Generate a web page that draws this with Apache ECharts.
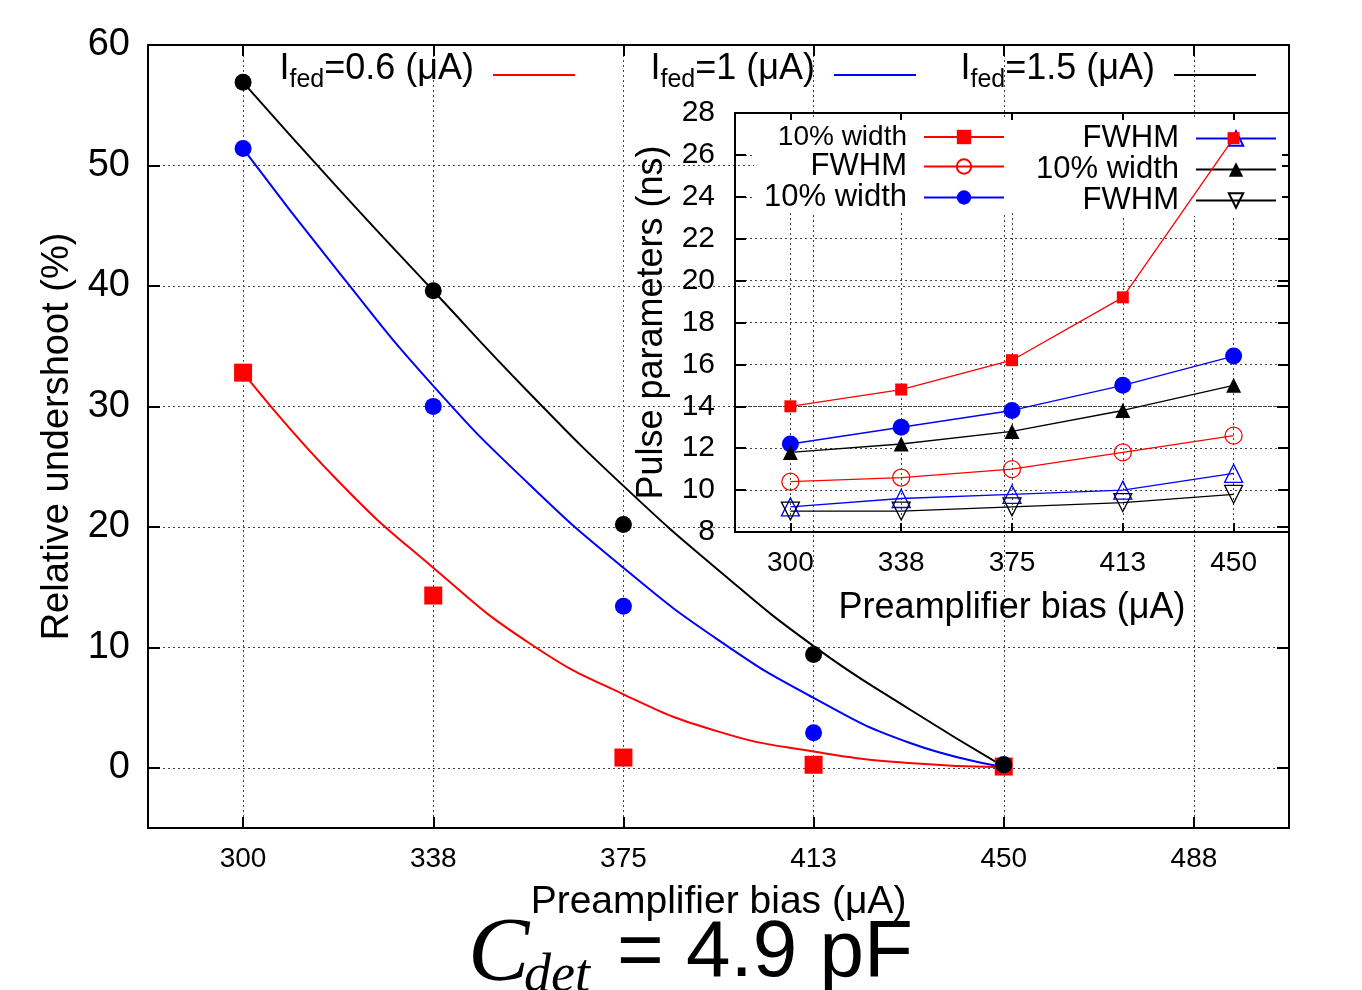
<!DOCTYPE html>
<html>
<head>
<meta charset="utf-8">
<script src="https://cdn.jsdelivr.net/npm/echarts@6/dist/echarts.min.js"></script>
<style>
  html, body { margin: 0; padding: 0; background: #fff; }
  #chart { width: 1362px; height: 990px; }
</style>
</head>
<body>
<div id="chart"></div>
<script>
// Preamplifier bias settings (μA)
const biasTicks = [300, 337.5, 375, 412.5, 450, 487.5];
const biasInsetTicks = [300, 337.5, 375, 412.5, 450];
const biasPoints = [300, 337.5, 375, 412.5, 450];

// Relative undershoot (%) for each feedback current
const undershoot06 = [32.8, 14.3, 0.85, 0.25, 0.1];
const undershoot10 = [51.4, 30.0, 13.4, 2.9, 0.25];
const undershoot15 = [56.9, 39.6, 20.2, 9.4, 0.25];

// Fitted trend curves, sampled along the bias axis
const fitBias = [300, 318.75, 337.5, 356.25, 375, 393.75, 412.5, 431.25, 450];
const fit06 = [32.8, 23.8, 16.6, 10.4, 6.1, 3.0, 1.35, 0.4, 0.05];
const fit10 = [51.4, 41.2, 31.7, 23.6, 16.6, 10.6, 5.8, 2.1, 0.05];
const fit15 = [56.9, 48.1, 39.6, 31.2, 23.4, 16.4, 10.1, 4.9, 0.1];

// Pulse parameters (ns): 10% width and FWHM per feedback current
const width06 = [14.0, 14.8, 16.2, 19.2, 26.8];
const fwhm06 = [10.4, 10.6, 11.0, 11.8, 12.6];
const width10 = [12.2, 13.0, 13.8, 15.0, 16.4];
const fwhm10 = [9.2, 9.6, 9.8, 10.0, 10.8];
const width15 = [11.8, 12.2, 12.8, 13.8, 15.0];
const fwhm15 = [9.0, 9.0, 9.2, 9.4, 9.8];

// Axis tick values
const undershootTicks = [0, 10, 20, 30, 40, 50, 60];

// Legend labels
const feedbackLabels = { fit06: '0.6', fit10: '1', fit15: '1.5' };
const pulseLabels = {
  w06: '10% width', f06: 'FWHM', w10: '10% width',
  f10: 'FWHM', w15: '10% width', f15: 'FWHM'
};

const FONT = 'Liberation Sans';
const RED = '#ff0000', BLUE = '#0000ff', BLACK = '#000000';
const zip = (xs, ys) => xs.map((x, i) => [x, ys[i]]);
const roundLabel = v => String(Math.round(v));
const dotted = { color: '#444', width: 1, type: [2, 3] };

function xAxisDef(grid, pos, min, max, ticks, z, withLabels, labelSize, tickLen) {
  return {
    type: 'value', gridIndex: grid, position: pos, min: min, max: max, z: z,
    axisLine: { show: true, onZero: false, lineStyle: { color: '#000', width: 2 } },
    axisTick: { show: true, inside: true, length: tickLen, customValues: ticks,
                lineStyle: { color: '#000', width: 2 } },
    axisLabel: { show: withLabels, customValues: ticks, formatter: roundLabel,
                 fontSize: labelSize, fontFamily: FONT, color: '#000', margin: 17 },
    splitLine: { show: withLabels, lineStyle: dotted }
  };
}

const chart = echarts.init(document.getElementById('chart'), null, { renderer: 'canvas' });

const mainScatter = (name, data, color, symbol) => ({
  name: name, type: 'scatter', xAxisIndex: 0, yAxisIndex: 0, z: 3,
  symbol: symbol, symbolSize: symbol === 'rect' ? 18 : 17,
  itemStyle: { color: color, opacity: 1 },
  data: zip(biasPoints, data)
});
const mainFit = (name, data, color) => ({
  name: name, type: 'line', xAxisIndex: 0, yAxisIndex: 0, z: 3,
  smooth: 0.5, symbol: 'none', showSymbol: false,
  color: color, lineStyle: { color: color, width: 2 },
  data: zip(fitBias, data)
});
const pulseLine = (name, data, color, symbol, size, open, rotate) => ({
  name: name, type: 'line', xAxisIndex: 2, yAxisIndex: 2, z: 5,
  symbol: symbol, symbolSize: size, symbolRotate: rotate || 0,
  color: color,
  lineStyle: { color: color, width: 1.3 },
  itemStyle: open ? { color: 'rgba(0,0,0,0)', borderColor: color, borderWidth: 1.3 }
                  : { color: color },
  data: zip(biasPoints, data)
});

const feedbackLegend = (name, right) => ({
  data: [name], right: right, top: 51, padding: 0, z: 6,
  orient: 'horizontal', align: 'right', selectedMode: false,
  icon: 'rect', itemWidth: 82, itemHeight: 2,
  formatter: n => '{i|I}{s|fed}{t|=' + feedbackLabels[n] + ' (μA)}',
  textStyle: {
    fontFamily: FONT, color: '#000',
    rich: {
      i: { fontFamily: FONT, fontSize: 36, lineHeight: 36, padding: [0, 0, 6, 0], verticalAlign: 'bottom', color: '#000' },
      s: { fontFamily: FONT, fontSize: 25, lineHeight: 25, verticalAlign: 'bottom', color: '#000' },
      t: { fontFamily: FONT, fontSize: 36, lineHeight: 36, padding: [0, 14, 6, 0], verticalAlign: 'bottom', color: '#000' }
    }
  }
});

const pulseLegend = (names, right, padding) => ({
  data: names, right: right, top: 120, padding: padding, z: 4,
  orient: 'vertical', align: 'right', selectedMode: false,
  backgroundColor: '#fff', itemGap: 0, itemWidth: 80, itemHeight: 18,
  formatter: n => (n === 'w06' ? '{b|' : '{a|') + pulseLabels[n] + '}',
  textStyle: {
    fontFamily: FONT, color: '#000',
    rich: {
      a: { fontFamily: FONT, fontSize: 31, lineHeight: 29, padding: [0, 12, 0, 0], color: '#000' },
      b: { fontFamily: FONT, fontSize: 28, lineHeight: 29, padding: [0, 12, 0, 0], color: '#000' }
    }
  }
});

const option = {
  backgroundColor: '#fff',
  animation: false,
  grid: [
    { left: 148, top: 45, width: 1141, height: 783, outerBoundsMode: 'none' },
    { left: 735, top: 113, width: 554, height: 419, outerBoundsMode: 'none', z: 2 }
  ],
  xAxis: [
    Object.assign(xAxisDef(0, 'bottom', 281.25, 506.25, biasTicks, 0, true, 28, 11), {
      name: 'Preamplifier bias (μA)', nameLocation: 'middle', nameGap: 55,
      nameTextStyle: { fontSize: 39, fontFamily: FONT, color: '#000' }
    }),
    xAxisDef(0, 'top', 281.25, 506.25, biasTicks, 0, false, 28, 11),
    Object.assign(xAxisDef(1, 'bottom', 281.25, 468.75, biasInsetTicks, 2, true, 28, 9), {
      name: 'Preamplifier bias (μA)', nameLocation: 'middle', nameGap: 58,
      nameTextStyle: { fontSize: 36, fontFamily: FONT, color: '#000' }
    }),
    xAxisDef(1, 'top', 281.25, 468.75, biasInsetTicks, 2, false, 28, 9)
  ],
  yAxis: [
    {
      type: 'value', gridIndex: 0, position: 'left', min: -5, max: 60, z: 0,
      axisLine: { show: true, onZero: false, lineStyle: { color: '#000', width: 2 } },
      axisTick: { show: true, inside: true, length: 12, customValues: undershootTicks,
                  lineStyle: { color: '#000', width: 2 } },
      axisLabel: { show: true, customValues: undershootTicks, fontSize: 38, fontFamily: FONT,
                   color: '#000', margin: 18 },
      splitLine: { show: true, lineStyle: dotted },
      name: 'Relative undershoot (%)', nameLocation: 'middle', nameGap: 64,
      nameTextStyle: { fontSize: 38, fontFamily: FONT, color: '#000' }
    },
    {
      type: 'value', gridIndex: 0, position: 'right', min: -5, max: 60, z: 0,
      axisLine: { show: true, onZero: false, lineStyle: { color: '#000', width: 2 } },
      axisTick: { show: true, inside: true, length: 12, customValues: undershootTicks,
                  lineStyle: { color: '#000', width: 2 } },
      axisLabel: { show: false }, splitLine: { show: false }
    },
    {
      type: 'value', gridIndex: 1, position: 'left', min: 8, max: 28, interval: 2, z: 2,
      axisLine: { show: true, onZero: false, lineStyle: { color: '#000', width: 2 } },
      axisTick: { show: true, inside: true, length: 11, lineStyle: { color: '#000', width: 2 } },
      axisLabel: { show: true, fontSize: 30, fontFamily: FONT, color: '#000', margin: 20 },
      splitLine: { show: true, lineStyle: dotted },
      name: 'Pulse parameters (ns)', nameLocation: 'middle', nameGap: 65,
      nameTextStyle: { fontSize: 36, fontFamily: FONT, color: '#000' }
    },
    {
      type: 'value', gridIndex: 1, position: 'right', min: 8, max: 28, interval: 2, z: 2,
      axisLine: { show: true, onZero: false, lineStyle: { color: '#000', width: 2 } },
      axisTick: { show: true, inside: true, length: 11, lineStyle: { color: '#000', width: 2 } },
      axisLabel: { show: false }, splitLine: { show: false }
    }
  ],
  legend: [
    feedbackLegend('fit06', 787),
    feedbackLegend('fit10', 446),
    feedbackLegend('fit15', 106),
    pulseLegend(['w06', 'f06', 'w10'], 344, [3, 13, 0, 10]),
    pulseLegend(['f10', 'w15', 'f15'], 80, [3, 5, 0, 18])
  ],
  graphic: {
    z: 1,
    elements: [
      // blank panel behind the inset
      { type: 'rect', silent: true, shape: { x: 628, y: 47, width: 658, height: 593 },
        style: { fill: '#fff' } },
      // detector capacitance caption
      { type: 'text', silent: true, x: 468, y: 956,
        style: { text: 'C', font: 'italic 92px "Liberation Serif"', fill: '#000', verticalAlign: 'middle' } },
      { type: 'text', silent: true, x: 524, y: 977,
        style: { text: 'det', font: 'italic 54px "Liberation Serif"', fill: '#000', verticalAlign: 'middle' } },
      { type: 'text', silent: true, x: 617, y: 954,
        style: { text: '= 4.9 pF', font: '80px "Liberation Sans"', fill: '#000', verticalAlign: 'middle' } }
    ]
  },
  series: [
    mainScatter('pts06', undershoot06, RED, 'rect'),
    mainScatter('pts10', undershoot10, BLUE, 'circle'),
    mainScatter('pts15', undershoot15, BLACK, 'circle'),
    mainFit('fit06', fit06, RED),
    mainFit('fit10', fit10, BLUE),
    mainFit('fit15', fit15, BLACK),
    pulseLine('w06', width06, RED, 'rect', 12, false),
    pulseLine('f06', fwhm06, RED, 'circle', 17, true),
    pulseLine('w10', width10, BLUE, 'circle', 17, false),
    pulseLine('f10', fwhm10, BLUE, 'triangle', 18, true),
    pulseLine('w15', width15, BLACK, 'triangle', 15, false),
    pulseLine('f15', fwhm15, BLACK, 'triangle', 18, true, 180)
  ]
};

chart.setOption(option);
</script>
</body>
</html>
